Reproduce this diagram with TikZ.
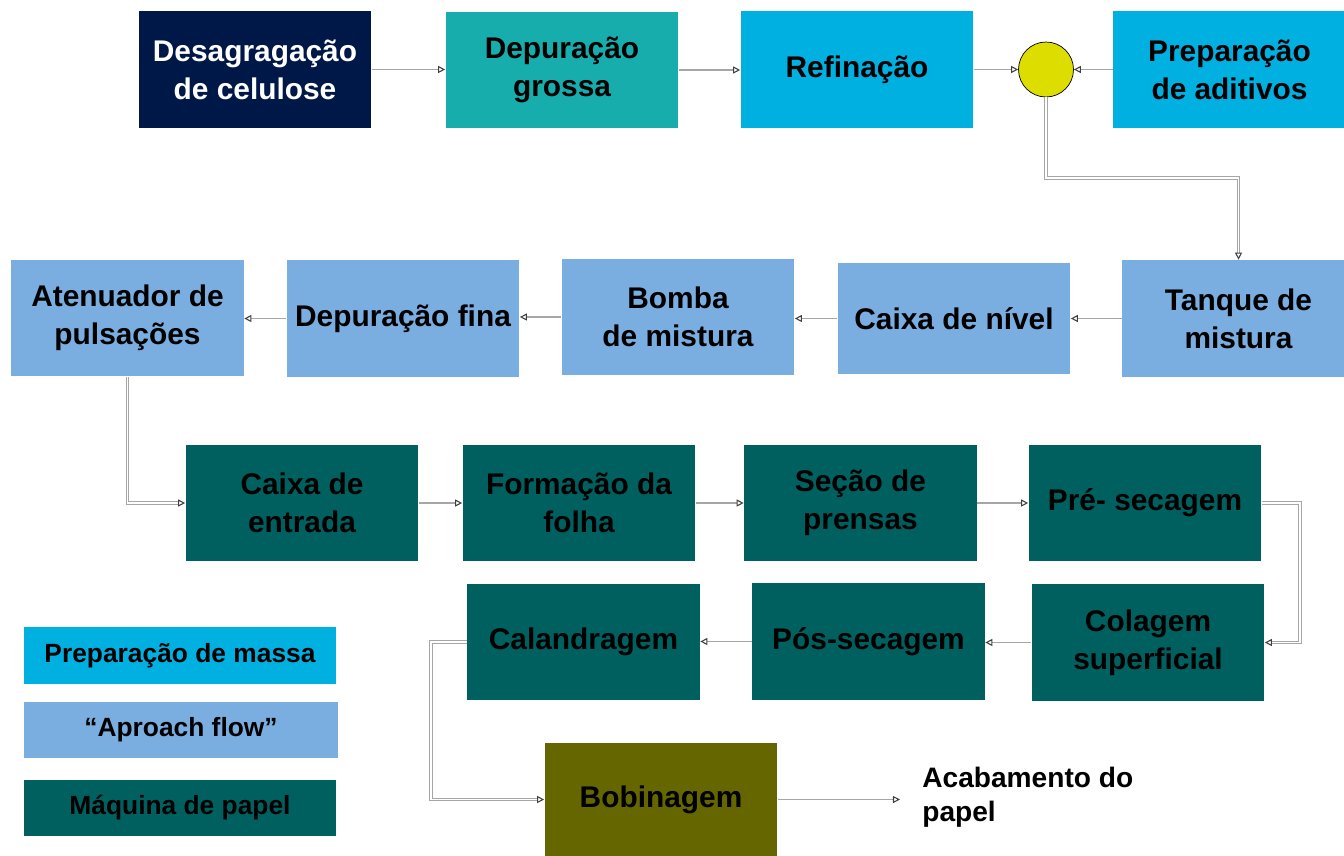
\documentclass[tikz,border=0pt]{standalone}
\usepackage{fontspec}
\setmainfont{Liberation Sans}
\usetikzlibrary{arrows.meta}

\definecolor{azulescuro}{HTML}{001848}
\definecolor{verdeagua}{HTML}{17ADAD}
\definecolor{ciano}{HTML}{00B0E0}
\definecolor{azulclaro}{HTML}{7AAEE0}
\definecolor{verdeescuro}{HTML}{006060}
\definecolor{oliva}{HTML}{666600}
\definecolor{amarelo}{HTML}{DDDD00}

\tikzset{
  caixa/.style={rectangle, minimum width=4.66cm, minimum height=2.34cm, inner sep=0pt,
    align=center, font=\bfseries\fontsize{17}{21.5}\selectfont},
  legenda/.style={rectangle, minimum width=6.24cm, minimum height=1.13cm, inner sep=0pt,
    font=\bfseries\fontsize{15}{18}\selectfont},
  seta/.style={draw=gray!70, line width=0.6pt,
    -{Triangle[open, length=4pt, width=4pt, line width=0.6pt, color=black!75]}},
  setadupla/.style={seta, double=white, double distance=0.9pt, line width=0.5pt},
}

\begin{document}
\begin{tikzpicture}[x=0.02cm, y=-0.02cm]

\useasboundingbox (0,0) rectangle (1344,855);
\clip (0,0) rectangle (1344,855);

% primeira linha: preparacao de massa
\node[caixa, fill=azulescuro, text=white] (desag) at (255,69.5) {Desagragação\\de celulose};
\node[caixa, fill=verdeagua] (grossa) at (562,70) {Depuração\\grossa};
\node[caixa, fill=ciano] (refino) at (857,69.5) {Refinação};
\node[circle, draw=black, fill=amarelo, minimum size=1.1cm, inner sep=0pt] (mistura) at (1046,69.5) {};
\node[caixa, fill=ciano] (aditivos) at (1229.5,69.5) {Preparação\\de aditivos};

% segunda linha: approach flow
\begin{scope}[every node/.append style={minimum height=2.38cm, fill=azulclaro}]
    \node[caixa] (atenuador) at (127.5,318) {Atenuador de\\pulsações};
    \node[caixa] (fina) at (403,318.5) {Depuração fina};
    \node[caixa] (bomba) at (678,317) {Bomba\\de mistura};
    \node[caixa, minimum height=2.22cm] (nivel) at (954,318.5) {Caixa de nível};
    \node[caixa] (tanque) at (1238.5,318.5) {Tanque de\\mistura};
\end{scope}

% terceira linha: maquina de papel
\begin{scope}[every node/.append style={minimum height=2.18cm, fill=verdeescuro}]
    \node[caixa] (entrada) at (302,503) {Caixa de\\entrada};
    \node[caixa] (formacao) at (579,503) {Formação da\\folha};
    \node[caixa] (prensas) at (860.5,503) {Seção de\\prensas};
    \node[caixa] (pre) at (1145,503) {Pré- secagem};
\end{scope}

% quarta linha
\begin{scope}[every node/.append style={minimum height=2.26cm, fill=verdeescuro}]
    \node[caixa] (calandra) at (583.5,642) {Calandragem};
    \node[caixa] (pos) at (868.5,641.5) {Pós-secagem};
    \node[caixa] (colagem) at (1148,642.5) {Colagem\\superficial};
\end{scope}

% bobinagem e acabamento
\node[caixa, minimum height=2.26cm, fill=oliva] (bobina) at (661,799.5) {Bobinagem};
\node[anchor=west, align=left, inner sep=0pt, inner xsep=0.44cm,
    font=\bfseries\fontsize{16}{19.3}\selectfont] (acab) at (900,797) {Acabamento do\\papel};

% legenda
\node[legenda, fill=ciano] (legmassa) at (180,655.5) {Preparação de massa};
\node[legenda, fill=azulclaro, minimum width=6.28cm] (legflow) at (181,730) {“Aproach flow”};
\node[legenda, fill=verdeescuro] (legmaq) at (180,808) {Máquina de papel};

% pontos de dobra
\coordinate (dobra1) at (1046,178);
\coordinate (dobra2) at (1300,503);
\coordinate (dobra3) at (431,642);

% ligacoes
\draw[seta] (desag.east) -- (desag.east -| grossa.west);
\draw[seta] (grossa.east) -- (grossa.east -| refino.west);
\draw[seta] (refino.east) -- (mistura.west);
\draw[seta] (aditivos.west) -- (mistura.east);
\draw[setadupla] (mistura.south) -- (dobra1) -| (tanque.north);
\draw[seta] (tanque.west) -- (tanque.west -| nivel.east);
\draw[seta] (nivel.west) -- (nivel.west -| bomba.east);
\draw[seta] (bomba.west) -- (bomba.west -| fina.east);
\draw[seta] (fina.west) -- (fina.west -| atenuador.east);
\draw[setadupla] (atenuador.south) |- (entrada.west);
\draw[seta] (entrada.east) -- (formacao.west);
\draw[seta] (formacao.east) -- (prensas.west);
\draw[seta] (prensas.east) -- (pre.west);
\draw[setadupla] (pre.east) -- (dobra2) |- (colagem.east);
\draw[seta] (colagem.west) -- (colagem.west -| pos.east);
\draw[seta] (pos.west) -- (pos.west -| calandra.east);
\draw[setadupla] (calandra.west) -- (dobra3) |- (bobina.west);
\draw[seta] (bobina.east) -- (bobina.east -| acab.west);

\end{tikzpicture}
\end{document}
